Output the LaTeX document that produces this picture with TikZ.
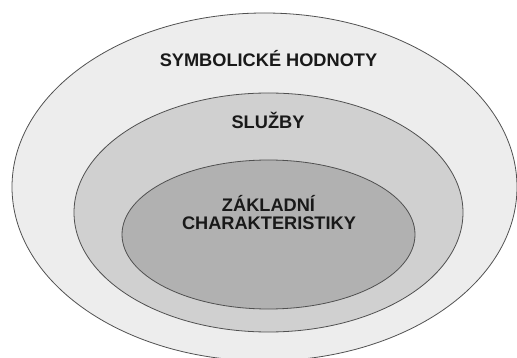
\documentclass[tikz,border=0pt]{standalone}
\usepackage{fontspec}
\setmainfont{Liberation Sans}
\definecolor{ringA}{RGB}{237,237,237}
\definecolor{ringB}{RGB}{208,208,208}
\definecolor{ringC}{RGB}{177,177,177}
\definecolor{rim}{RGB}{80,80,80}
\definecolor{ink}{RGB}{25,25,25}
\tikzset{
  ring/.style={draw=rim, line width=0.8pt},
  label/.style={font=\bfseries\fontsize{18.2}{18.5}\selectfont, text=ink, inner sep=0pt, anchor=base, align=center}
}
\begin{document}
\begin{tikzpicture}[x=1pt, y=-1pt]
  \useasboundingbox (0,0) rectangle (517,358);
  \clip (0,0) rectangle (517,358);
  % nested layers, outermost first
  \draw[ring, fill=ringA] (264.5,187) ellipse [x radius=252.5, y radius=174];
  \draw[ring, fill=ringB] (268.5,212.5) ellipse [x radius=194.5, y radius=119.5];
  \draw[ring, fill=ringC] (268.5,234.5) ellipse [x radius=146.5, y radius=74.5];
  % layer titles
  \node[label] (symbol) at (268.5,66.5) {SYMBOLICKÉ HODNOTY};
  \node[label] (sluzby) at (268,129) {SLUŽBY};
  \node[label] (zaklad) at (268.5,211.5) {ZÁKLADNÍ};
  \node[label] (charak) at (269,230) {CHARAKTERISTIKY};
\end{tikzpicture}
\end{document}
